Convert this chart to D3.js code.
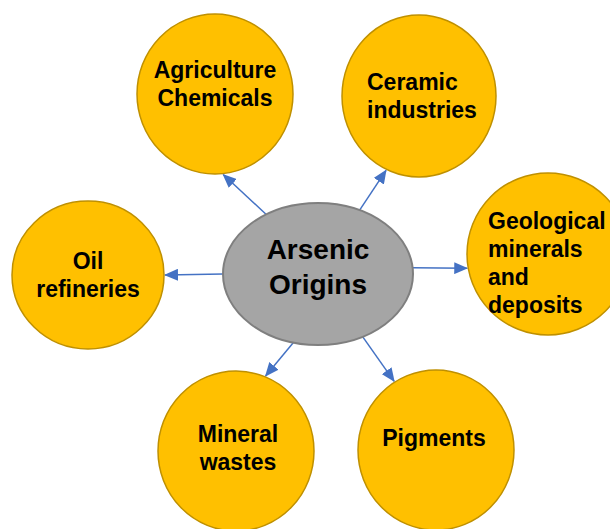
<!DOCTYPE html>
<meta charset="utf-8">
<style>
body { margin: 0; background: #fff; }
svg { display: block; }
text { font-family: "Liberation Sans", Arial, sans-serif; font-weight: bold; fill: #000; }
</style>
<svg id="chart" width="610" height="529"></svg>
<script src="https://cdn.jsdelivr.net/npm/d3@7"></script>
<script>
// diagram content
var centerLabel = ["Arsenic", "Origins"];
var nodeNames = ["Agriculture Chemicals", "Ceramic industries", "Geological minerals and deposits",
                 "Pigments", "Mineral wastes", "Oil refineries"];
var nodeLines = [["Agriculture", "Chemicals"], ["Ceramic", "industries"],
                 ["Geological", "minerals", "and", "deposits"], ["Pigments"],
                 ["Mineral", "wastes"], ["Oil", "refineries"]];

// layout (pixels)
var hub = {cx: 318, cy: 274, rx: 95, ry: 71};
var layout = [
  {cx: 215, cy: 94,  rx: 78, ry: 80, anchor: "middle", tx: 215, ty: 78,  tail: -123, tip: 84},
  {cx: 419, cy: 96,  rx: 77, ry: 81, anchor: "start",  tx: 367, ty: 90,  tail: -64,  tip: 115},
  {cx: 548, cy: 254, rx: 81, ry: 81, anchor: "start",  tx: 488, ty: 229, tail: -5,   tip: 170},
  {cx: 436, cy: 450, rx: 78, ry: 80, anchor: "middle", tx: 434, ty: 446, tail: 62,   tip: -122},
  {cx: 236, cy: 451, rx: 78, ry: 80, anchor: "middle", tx: 238, ty: 442, tail: 105,  tip: -68},
  {cx: 88,  cy: 275, rx: 76, ry: 74, anchor: "middle", tx: 88,  ty: 269, tail: 180,  tip: 0}
];

var svg = d3.select("#chart");
var rad = Math.PI / 180;

svg.append("defs").append("marker")
    .attr("id", "head")
    .attr("viewBox", "0 -6 14 12")
    .attr("refX", 13)
    .attr("refY", 0)
    .attr("markerUnits", "userSpaceOnUse")
    .attr("markerWidth", 14)
    .attr("markerHeight", 12)
    .attr("orient", "auto")
  .append("path")
    .attr("d", "M0,-6L14,0L0,6Z")
    .attr("fill", "#4472C4");

var nodes = nodeNames.map(function(name, i) {
  return Object.assign({name: name, lines: nodeLines[i]}, layout[i]);
});

// arrows from hub edge to node edge
svg.selectAll("line.arrow")
  .data(nodes)
  .enter().append("line")
    .attr("class", "arrow")
    .attr("x1", function(d) { return hub.cx + hub.rx * Math.cos(d.tail * rad); })
    .attr("y1", function(d) { return hub.cy + hub.ry * Math.sin(d.tail * rad); })
    .attr("x2", function(d) { return d.cx + (d.rx + 1) * Math.cos(d.tip * rad); })
    .attr("y2", function(d) { return d.cy + (d.ry + 1) * Math.sin(d.tip * rad); })
    .attr("stroke", "#4472C4")
    .attr("stroke-width", 1.5)
    .attr("marker-end", "url(#head)");

svg.selectAll("ellipse.node")
  .data(nodes)
  .enter().append("ellipse")
    .attr("class", "node")
    .attr("cx", function(d) { return d.cx; })
    .attr("cy", function(d) { return d.cy; })
    .attr("rx", function(d) { return d.rx; })
    .attr("ry", function(d) { return d.ry; })
    .attr("fill", "#FFC000")
    .attr("stroke", "#BF9000")
    .attr("stroke-width", 1.5);

svg.append("ellipse")
    .attr("cx", hub.cx)
    .attr("cy", hub.cy)
    .attr("rx", hub.rx)
    .attr("ry", hub.ry)
    .attr("fill", "#A5A5A5")
    .attr("stroke", "#7F7F7F")
    .attr("stroke-width", 2);

svg.selectAll("text.label")
  .data(nodes)
  .enter().append("text")
    .attr("class", "label")
    .attr("text-anchor", function(d) { return d.anchor; })
    .style("font-size", "23px")
    .each(function(d) {
      d3.select(this).selectAll("tspan")
        .data(d.lines)
        .enter().append("tspan")
          .attr("x", d.tx)
          .attr("y", function(l, j) { return d.ty + j * 28; })
          .text(function(l) { return l; });
    });

svg.append("text")
    .attr("text-anchor", "middle")
    .style("font-size", "28px")
  .selectAll("tspan")
  .data(centerLabel)
  .enter().append("tspan")
    .attr("x", hub.cx)
    .attr("y", function(l, j) { return 259 + j * 35; })
    .text(function(l) { return l; });
</script>
